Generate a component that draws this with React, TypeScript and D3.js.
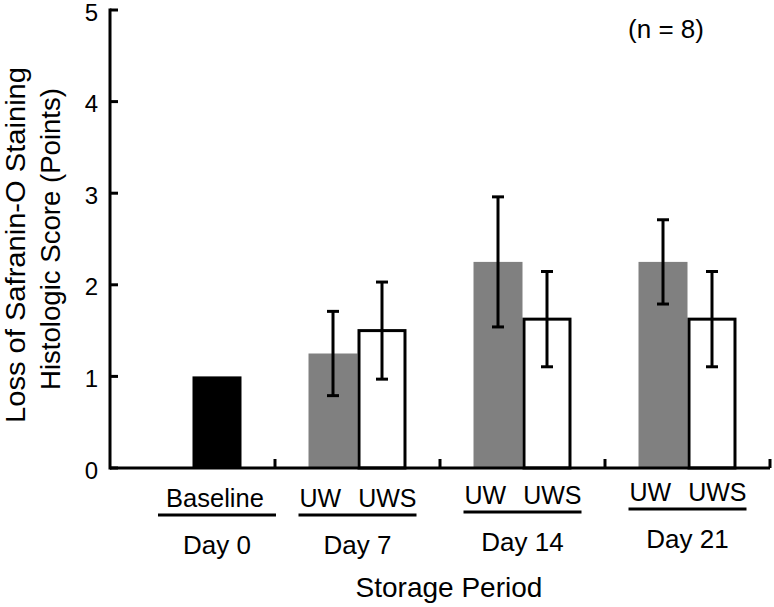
import React from "react";
import * as d3 from "d3";

// ---- data ----
const categories = ["Day 0", "Day 7", "Day 14", "Day 21"];
const groupLabels = ["Baseline", "UW UWS", "UW UWS", "UW UWS"];
const baselineValue = 1.0;
const uwMeans = [NaN, 1.25, 2.25, 2.25];
const uwErr = [NaN, 0.46, 0.71, 0.46];
const uwsMeans = [NaN, 1.5, 1.625, 1.625];
const uwsErr = [NaN, 0.53, 0.52, 0.52];
const yTicks = [0, 1, 2, 3, 4, 5];
const yTitle = ["Loss of Safranin-O Staining", "Histologic Score (Points)"];
const xTitle = "Storage Period";
const note = "(n = 8)";

// ---- layout ----
const W = 774;
const H = 607;
const M = { left: 110, right: 4, top: 10, bottom: 139 };
const FONT = "'Liberation Sans', Arial, Helvetica, sans-serif";
const labelDrift = [0, 0, -3, -6];

export default function App() {
  if (typeof document !== "undefined") document.body.style.margin = "0";
  const x0 = d3
    .scaleBand<string>()
    .domain(categories)
    .range([M.left, W - M.right])
    .padding(0);
  const x1 = d3
    .scaleBand<string>()
    .domain(["UW", "UWS"])
    .range([0, x0.bandwidth()])
    .paddingInner(0)
    .paddingOuter(0.684);
  const y = d3.scaleLinear().domain([0, 5]).range([H - M.bottom, M.top]);
  const y0 = y(0);
  const bw = x1.bandwidth();
  const cap = 6;

  const bars: JSX.Element[] = [];
  const errs: JSX.Element[] = [];
  categories.forEach((c, i) => {
    const gx = x0(c)!;
    if (i === 0) {
      bars.push(
        <rect key="base" x={gx + x1("UWS")!} y={y(baselineValue)} width={bw}
          height={y0 - y(baselineValue)} fill="#000" />
      );
      return;
    }
    const xu = gx + x1("UW")!;
    const xs = gx + x1("UWS")!;
    bars.push(
      <rect key={"uw" + i} x={xu} y={y(uwMeans[i])} width={bw}
        height={y0 - y(uwMeans[i])} fill="#808080" />
    );
    bars.push(
      <rect key={"uws" + i} x={xs + 1.5} y={y(uwsMeans[i])} width={bw - 3}
        height={y0 - y(uwsMeans[i])} fill="#fff" stroke="#000" strokeWidth={3} />
    );
    [[xu, uwMeans[i], uwErr[i]], [xs, uwsMeans[i], uwsErr[i]]].forEach(([bx, m, e], k) => {
      const cx = bx + bw / 2;
      errs.push(
        <g key={"e" + i + k} stroke="#000" strokeWidth={3}>
          <line x1={cx} x2={cx} y1={y(m + e)} y2={y(m - e)} />
          <line x1={cx - cap} x2={cx + cap} y1={y(m + e)} y2={y(m + e)} />
          <line x1={cx - cap} x2={cx + cap} y1={y(m - e)} y2={y(m - e)} />
        </g>
      );
    });
  });

  const labels = categories.map((c, i) => {
    const center = i === 0 ? x0(c)! + x1("UWS")! + bw / 2 : x0(c)! + x0.bandwidth() / 2;
    const d = labelDrift[i];
    const half = 59;
    const parts = groupLabels[i].split(" ");
    return (
      <g key={"lab" + i} fontFamily={FONT} fill="#000">
        {parts.length === 1 ? (
          <text x={center - 2} y={507 + d} textAnchor="middle" fontSize={25.5}>{parts[0]}</text>
        ) : (
          <>
            <text x={center - half + 1} y={507 + d} textAnchor="start" fontSize={25}>{parts[0]}</text>
            <text x={center + half} y={507 + d} textAnchor="end" fontSize={25}>{parts[1]}</text>
          </>
        )}
        <line x1={center - half} x2={center + half} y1={515 + d} y2={515 + d} stroke="#000" strokeWidth={3} />
        <text x={center} y={554 + d} textAnchor="middle" fontSize={26}>{c}</text>
      </g>
    );
  });

  const yc = (M.top + y0) / 2;
  return (
    <svg width={W} height={H} style={{ position: "absolute", left: 0, top: 0, background: "#fff" }}>
      <rect width={W} height={H} fill="#fff" />
      {bars}
      {errs}
      {/* y axis */}
      <line x1={M.left} x2={M.left} y1={y(5) - 1.5} y2={y0 + 1.5} stroke="#000" strokeWidth={3} />
      {yTicks.map((t) => (
        <g key={"yt" + t}>
          <line x1={M.left} x2={M.left + 8} y1={y(t)} y2={y(t)} stroke="#000" strokeWidth={3} />
          <text x={M.left - 12} y={y(t)} dy="0.44em" textAnchor="end" fontSize={24} fontFamily={FONT}>{t}</text>
        </g>
      ))}
      {/* x axis */}
      <line x1={M.left} x2={W - M.right} y1={y0} y2={y0} stroke="#000" strokeWidth={3} />
      {categories.map((c) => (
        <line key={"xt" + c} x1={x0(c)! + x0.bandwidth()} x2={x0(c)! + x0.bandwidth()} y1={y0} y2={y0 - 9}
          stroke="#000" strokeWidth={3} />
      ))}
      {labels}
      <text x={449} y={597} textAnchor="middle" fontSize={28} fontFamily={FONT}>{xTitle}</text>
      <g fontFamily={FONT} fontSize={27}>
        <text transform={`translate(25,${yc + 6}) rotate(-90)`} textAnchor="middle"
          textLength={356} lengthAdjust="spacingAndGlyphs">{yTitle[0]}</text>
        <text transform={`translate(60,${yc - 0}) rotate(-90)`} textAnchor="middle"
          textLength={302} lengthAdjust="spacingAndGlyphs">{yTitle[1]}</text>
      </g>
      <text x={666} y={38} textAnchor="middle" fontSize={26} fontFamily={FONT}>{note}</text>
    </svg>
  );
}
